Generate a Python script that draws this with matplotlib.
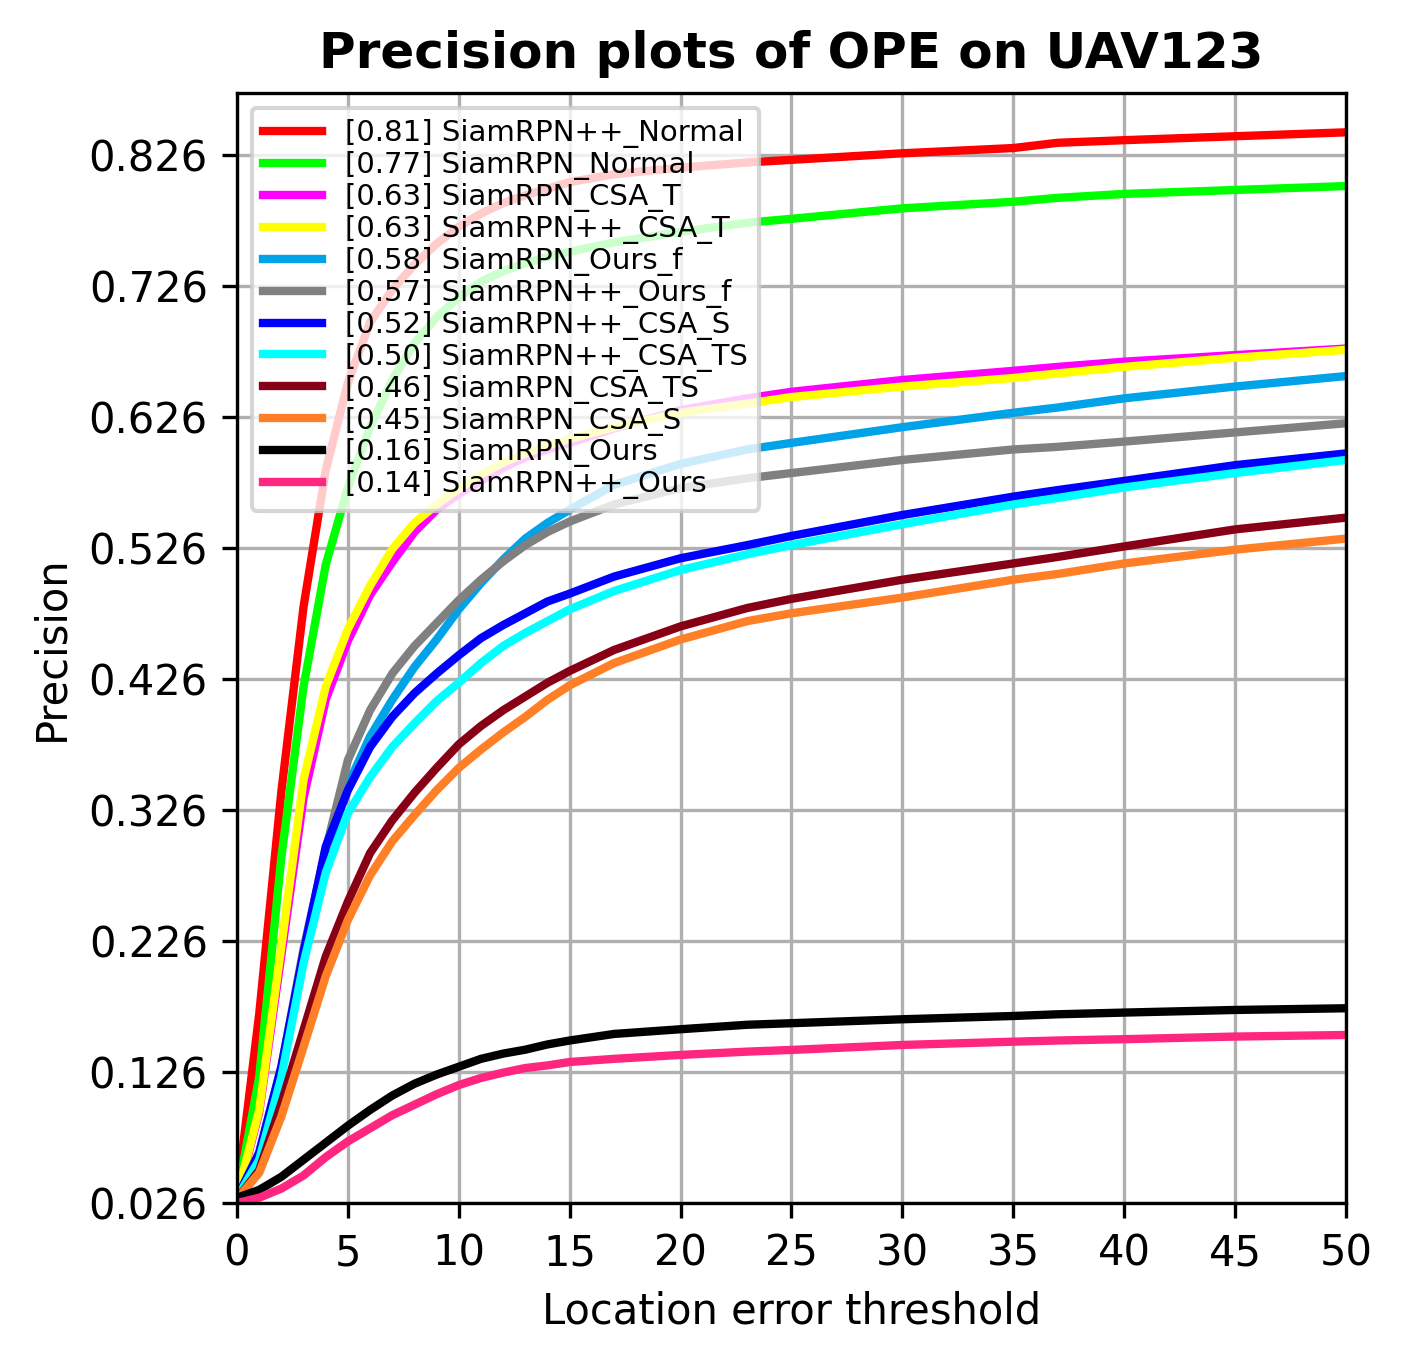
import numpy as np
import matplotlib
matplotlib.use('Agg')
import matplotlib.pyplot as plt

# location error thresholds (pixels) at which the curves were read
thresholds = [0, 1, 2, 3, 4, 5, 6, 7, 8, 9, 10, 11, 12, 13, 14, 15,
              17, 20, 23, 25, 30, 35, 37, 40, 45, 50]

# precision values per tracker
siamrpnpp_normal = [0.032, 0.170, 0.340, 0.481, 0.585, 0.652, 0.698, 0.723, 0.742, 0.758, 0.771, 0.781, 0.789,
                    0.795, 0.800, 0.805, 0.811, 0.816, 0.820, 0.822, 0.827, 0.831, 0.835, 0.837, 0.840, 0.843]
siamrpn_normal = [0.031, 0.122, 0.290, 0.420, 0.513, 0.572, 0.618, 0.654, 0.682, 0.702, 0.717, 0.729, 0.737,
                  0.743, 0.748, 0.752, 0.759, 0.767, 0.774, 0.777, 0.785, 0.790, 0.793, 0.796, 0.799, 0.802]
siamrpn_csa_t = [0.030, 0.095, 0.215, 0.335, 0.410, 0.455, 0.490, 0.515, 0.538, 0.555, 0.567, 0.577, 0.587,
                 0.595, 0.601, 0.606, 0.617, 0.631, 0.640, 0.645, 0.654, 0.661, 0.664, 0.668, 0.673, 0.678]
siamrpnpp_csa_t = [0.031, 0.097, 0.222, 0.349, 0.420, 0.464, 0.497, 0.525, 0.545, 0.559, 0.571, 0.582, 0.591,
                   0.598, 0.604, 0.609, 0.618, 0.629, 0.636, 0.641, 0.649, 0.6555, 0.659, 0.664, 0.671, 0.677]
siamrpn_ours_f = [0.030, 0.062, 0.128, 0.215, 0.290, 0.345, 0.382, 0.410, 0.435, 0.456, 0.479, 0.499, 0.517,
                  0.533, 0.545, 0.555, 0.574, 0.590, 0.601, 0.606, 0.618, 0.629, 0.633, 0.640, 0.649, 0.657]
siamrpnpp_ours_f = [0.030, 0.065, 0.130, 0.220, 0.2955, 0.364, 0.402, 0.430, 0.451, 0.4685, 0.486, 0.5016, 0.5156,
                    0.528, 0.538, 0.546, 0.559, 0.5716, 0.579, 0.583, 0.593, 0.601, 0.603, 0.607, 0.614, 0.621]
siamrpnpp_csa_s = [0.030, 0.064, 0.130, 0.217, 0.298, 0.341, 0.374, 0.397, 0.415, 0.430, 0.444, 0.457, 0.467,
                   0.476, 0.485, 0.491, 0.504, 0.518, 0.528, 0.535, 0.551, 0.565, 0.570, 0.577, 0.589, 0.598]
siamrpnpp_csa_ts = [0.030, 0.059, 0.122, 0.209, 0.278, 0.3235, 0.351, 0.374, 0.392, 0.409, 0.423, 0.438, 0.451,
                    0.461, 0.470, 0.479, 0.493, 0.509, 0.521, 0.528, 0.544, 0.559, 0.564, 0.572, 0.583, 0.593]
siamrpn_csa_ts = [0.029, 0.051, 0.102, 0.158, 0.214, 0.256, 0.293, 0.318, 0.339, 0.358, 0.376, 0.390, 0.402,
                  0.4125, 0.423, 0.432, 0.448, 0.466, 0.480, 0.487, 0.5016, 0.514, 0.519, 0.527, 0.540, 0.549]
siamrpn_csa_s = [0.029, 0.049, 0.092, 0.145, 0.199, 0.242, 0.276, 0.302, 0.322, 0.341, 0.358, 0.372, 0.385,
                 0.397, 0.410, 0.421, 0.438, 0.456, 0.470, 0.476, 0.488, 0.5016, 0.506, 0.514, 0.5245, 0.533]
siamrpn_ours = [0.030, 0.036, 0.046, 0.059, 0.072, 0.085, 0.097, 0.108, 0.117, 0.124, 0.130, 0.136, 0.140,
                0.143, 0.147, 0.150, 0.155, 0.1586, 0.162, 0.1632, 0.1662, 0.1687, 0.170, 0.1713, 0.1733, 0.1746]
siamrpnpp_ours = [0.026, 0.030, 0.037, 0.047, 0.061, 0.073, 0.083, 0.093, 0.101, 0.109, 0.116, 0.1214, 0.1255,
                  0.129, 0.131, 0.1336, 0.136, 0.139, 0.1415, 0.1428, 0.1466, 0.1491, 0.150, 0.151, 0.153, 0.1542]

names = ['SiamRPN++_Normal', 'SiamRPN_Normal', 'SiamRPN_CSA_T', 'SiamRPN++_CSA_T', 'SiamRPN_Ours_f',
         'SiamRPN++_Ours_f', 'SiamRPN++_CSA_S', 'SiamRPN++_CSA_TS', 'SiamRPN_CSA_TS', 'SiamRPN_CSA_S',
         'SiamRPN_Ours', 'SiamRPN++_Ours']
scores = [0.81, 0.77, 0.63, 0.63, 0.58, 0.57, 0.52, 0.50, 0.46, 0.45, 0.16, 0.14]
curves = [siamrpnpp_normal, siamrpn_normal, siamrpn_csa_t, siamrpnpp_csa_t, siamrpn_ours_f, siamrpnpp_ours_f,
          siamrpnpp_csa_s, siamrpnpp_csa_ts, siamrpn_csa_ts, siamrpn_csa_s, siamrpn_ours, siamrpnpp_ours]

COLOR = [(1, 0, 0), (0, 1, 0), (1, 0, 1), (1, 1, 0), (0, 162 / 255, 232 / 255), (0.5, 0.5, 0.5),
         (0, 0, 1), (0, 1, 1), (136 / 255, 0, 21 / 255), (1, 127 / 255, 39 / 255), (0, 0, 0),
         (1, 0.15, 0.5)]

fig = plt.figure(figsize=(1402 / 300, 1363 / 300), dpi=300)
ax = fig.add_axes([237 / 1402, 1 - 1203 / 1363, 1109 / 1402, 1110 / 1363])
ax.grid(True)

for idx, (name, score, curve) in enumerate(zip(names, scores, curves)):
    label = '[%.2f] %s' % (score, name)
    ax.plot(thresholds, curve, color=COLOR[idx], linestyle='-', label=label, linewidth=2)

ax.legend(loc='upper left', labelspacing=0.1, fontsize=7)

ymin = min(min(c) for c in curves)
ymax = max(max(c) for c in curves) + 0.03
ax.set_xlim(0, 50)
ax.set_ylim(ymin, ymax)
ax.set_xticks(np.arange(0, 50.01, 5))
yt = np.arange(ymin, ymax, 0.1)
ax.set_yticks(yt)
ax.set_yticklabels(['%.3f' % v for v in yt])

ax.set_xlabel('Location error threshold')
ax.set_ylabel('Precision')
ax.set_title('Precision plots of OPE on UAV123', fontweight='bold')

fig.savefig('out.png', dpi=300)
